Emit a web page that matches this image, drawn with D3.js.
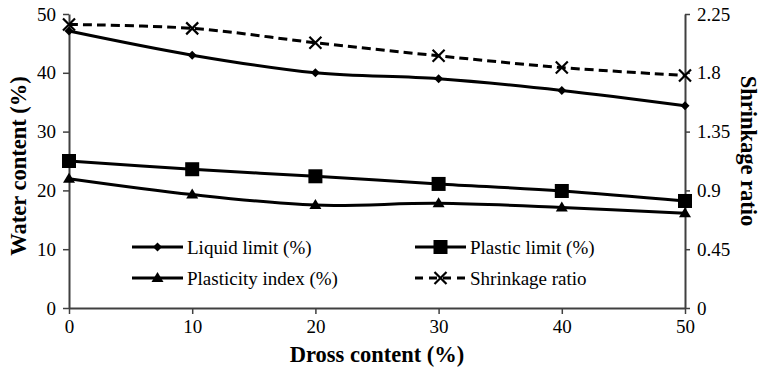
<!DOCTYPE html>
<html>
<head>
<meta charset="utf-8">
<script src="https://cdn.jsdelivr.net/npm/d3@7"></script>
<style>
  body { margin: 0; background: #fff; }
  svg text { font-family: "Liberation Serif", "Times New Roman", serif; }
</style>
</head>
<body>
<div id="chart"></div>
<script>
// data
var dross = [0, 10, 20, 30, 40, 50];
var liquidLimit = [47.1, 43.0, 40.0, 39.0, 37.0, 34.4];
var plasticLimit = [25.0, 23.6, 22.4, 21.1, 19.9, 18.2];
var plasticityIndex = [22.0, 19.3, 17.5, 17.8, 17.1, 16.1];
var shrinkageRatio = [2.17, 2.14, 2.03, 1.93, 1.84, 1.78];

var leftTicks = [0, 10, 20, 30, 40, 50];
var rightTicks = [0, 0.45, 0.9, 1.35, 1.8, 2.25];
var xTicks = [0, 10, 20, 30, 40, 50];

var w = 761;
var h = 370;
var plotLeft = 69, plotRight = 685, plotTop = 14, plotBottom = 308;
var axisColor = "#404040";
var serif = "Liberation Serif";

var svg = d3.select("#chart")
    .append("svg")
    .attr("width", w)
    .attr("height", h);

var xScale = d3.scaleLinear().domain([0, 50]).range([plotLeft, plotRight]);
var yScale = d3.scaleLinear().domain([0, 50]).range([plotBottom, plotTop]);
var y2Scale = d3.scaleLinear().domain([0, 2.25]).range([plotBottom, plotTop]);

// axes
function styleAxis(g) {
    g.attr("font-family", serif).attr("font-size", 19);
    g.select(".domain").attr("stroke", axisColor).attr("stroke-width", 2);
    g.selectAll(".tick line").attr("stroke", axisColor).attr("stroke-width", 1.5);
    g.selectAll(".tick text").attr("fill", "#000");
}

svg.append("g")
    .attr("transform", "translate(0," + plotBottom + ")")
    .call(d3.axisBottom(xScale).tickValues(xTicks).tickSize(6).tickSizeOuter(0).tickPadding(6))
    .call(styleAxis);

svg.append("g")
    .attr("transform", "translate(" + plotLeft + ",0)")
    .call(d3.axisLeft(yScale).tickValues(leftTicks).tickSize(6).tickSizeOuter(0).tickPadding(7))
    .call(styleAxis);

svg.append("g")
    .attr("transform", "translate(" + plotRight + ",0)")
    .call(d3.axisRight(y2Scale).tickValues(rightTicks).tickSize(5).tickSizeOuter(0).tickPadding(7)
        .tickFormat(function(d) { return String(d); }))
    .call(styleAxis);

// axis titles
svg.append("text")
    .attr("x", (plotLeft + plotRight) / 2)
    .attr("y", 362)
    .attr("text-anchor", "middle")
    .attr("font-family", serif)
    .attr("font-size", 22.5)
    .attr("font-weight", "bold")
    .text("Dross content (%)");

svg.append("text")
    .attr("transform", "translate(26,166) rotate(-90)")
    .attr("text-anchor", "middle")
    .attr("font-family", serif)
    .attr("font-size", 22.5)
    .attr("font-weight", "bold")
    .text("Water content (%)");

svg.append("text")
    .attr("transform", "translate(741,151) rotate(90)")
    .attr("text-anchor", "middle")
    .attr("font-family", serif)
    .attr("font-size", 22.5)
    .attr("font-weight", "bold")
    .text("Shrinkage ratio");

var series = [
    { name: "Liquid limit (%)", values: liquidLimit, scale: yScale, marker: "diamond", dash: null },
    { name: "Plastic limit (%)", values: plasticLimit, scale: yScale, marker: "square", dash: null },
    { name: "Plasticity index (%)", values: plasticityIndex, scale: yScale, marker: "triangle", dash: null },
    { name: "Shrinkage ratio", values: shrinkageRatio, scale: y2Scale, marker: "cross", dash: "9,5" }
];

function drawMarker(g, type) {
    if (type === "diamond") {
        g.append("path").attr("d", "M0,-4.5L4.5,0L0,4.5L-4.5,0Z").attr("fill", "#000");
    } else if (type === "square") {
        g.append("rect").attr("x", -7).attr("y", -7).attr("width", 14).attr("height", 14).attr("fill", "#000");
    } else if (type === "triangle") {
        g.append("path").attr("d", "M0,-6L6,4L-6,4Z").attr("fill", "#000");
    } else {
        g.append("path").attr("d", "M-6,-6L6,6M-6,6L6,-6")
            .attr("stroke", "#000").attr("stroke-width", 2.2).attr("fill", "none");
    }
}

series.forEach(function(s) {
    var line = d3.line()
        .x(function(d, i) { return xScale(dross[i]); })
        .y(function(d) { return s.scale(d); })
        .curve(d3.curveCatmullRom.alpha(0.5));

    svg.append("path")
        .attr("d", line(s.values))
        .attr("fill", "none")
        .attr("stroke", "#000")
        .attr("stroke-width", 3)
        .attr("stroke-dasharray", s.dash);

    s.values.forEach(function(v, i) {
        var g = svg.append("g")
            .attr("transform", "translate(" + xScale(dross[i]) + "," + s.scale(v) + ")");
        drawMarker(g, s.marker);
    });
});

// legend (two columns)
var legendPos = [
    { x: 132, y: 247 },
    { x: 415, y: 247 },
    { x: 132, y: 278 },
    { x: 415, y: 278 }
];

series.forEach(function(s, i) {
    var p = legendPos[i];
    var lg = svg.append("g").attr("transform", "translate(" + p.x + "," + p.y + ")");
    lg.append("line")
        .attr("x1", 0).attr("x2", 51)
        .attr("y1", 0).attr("y2", 0)
        .attr("stroke", "#000")
        .attr("stroke-width", 3)
        .attr("stroke-dasharray", s.dash ? "8,6" : null);
    var m = lg.append("g").attr("transform", "translate(25.5,0)");
    drawMarker(m, s.marker);
    lg.append("text")
        .attr("x", 55)
        .attr("y", 6.5)
        .attr("font-family", serif)
        .attr("font-size", 19)
        .text(s.name);
});
</script>
</body>
</html>
